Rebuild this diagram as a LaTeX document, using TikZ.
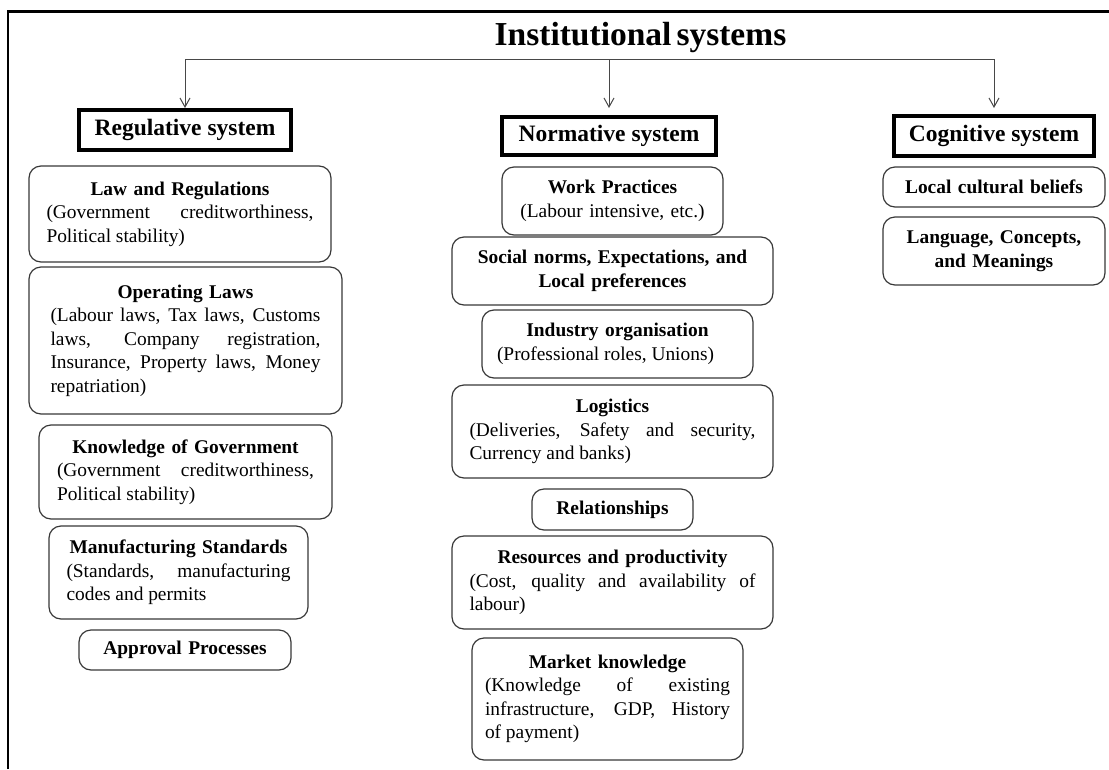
\documentclass[tikz,border=0pt]{standalone}
\usepackage{fontspec}
\setmainfont{Liberation Serif}
\usetikzlibrary{arrows.meta}
\tikzset{
  hdr/.style={draw=black, line width=4pt, inner sep=0pt, align=center,
    font=\fontsize{23.5}{28}\selectfont\bfseries},
  rb/.style={draw=black!78, line width=1.2pt, rounded corners=12pt, inner sep=0pt,
    font=\fontsize{19.4}{23.5}\selectfont},
  rbb/.style={rb, align=center, font=\fontsize{19.4}{23.5}\selectfont\bfseries},
  conn/.style={draw=black!72, line width=1pt},
  arr/.style={conn, -{Straight Barb[length=9pt,width=10pt]}},
  frame/.style={draw=black, line width=2.2pt},
  titlestyle/.style={inner sep=0pt, anchor=base, font=\fontsize{33.5}{38}\selectfont\bfseries},
}
% name, style, x1, y1, x2, y2, text width, content
\newcommand\ibox[8]{\node[#2,text width=#7pt,minimum width={#5pt-#3pt},minimum height={#6pt-#4pt}] (#1) at ({(#3+#5)/2},{(#4+#6)/2}) {#8};}
\newcommand\hd[1]{\noindent\makebox[\linewidth][c]{\bfseries #1}\par}
\newcommand\jst[1]{\noindent\tolerance=10000\pretolerance=-1\hyphenpenalty=10000\exhyphenpenalty=10000\leftskip=0pt\rightskip=0pt\parfillskip=0pt plus 1fil\spaceskip=4.8pt plus 8pt minus 1pt\relax #1\par}
\begin{document}
\begin{tikzpicture}[x=1pt,y=-1pt]
\useasboundingbox (0,0) rectangle (1109,769);
% frame
\draw[frame] (8,769) -- (8,11.5) -- (1109,11.5);
% title
\node[titlestyle] (title) at (640.5,45) {Institutional\hspace{5pt}systems};
% header boxes
\node[hdr, minimum width=212pt, minimum height=40pt] (reg) at (185,130) {Regulative system};
\node[hdr, minimum width=214pt, minimum height=38pt] (nor) at (609,136) {Normative system};
\node[hdr, minimum width=200pt, minimum height=40pt] (cog) at (994,136) {Cognitive system};
% connectors
\coordinate (bus) at (610,59);
\draw[conn] (reg.north |- bus) -- (cog.north |- bus);
\draw[arr] (reg.north |- bus) -- (reg.north);
\draw[arr, shorten >=7pt] (nor.north |- bus) -- (nor.north);
\draw[arr, shorten >=6pt] (cog.north |- bus) -- (cog.north);
% regulative column
\ibox{law}{rb}{29}{166}{331}{262}{267}{\hd{Law and Regulations}\jst{(Government creditworthiness, Political stability)}}
\ibox{opl}{rb}{29}{267}{342}{414}{270}{\hd{Operating Laws}\jst{(Labour laws, Tax laws, Customs laws, Company registration, Insurance, Property laws, Money repatriation)}}
\ibox{kog}{rb}{39}{425}{332}{519}{257}{\hd{Knowledge of Government}\jst{(Government creditworthiness, Political stability)}}
\ibox{mfs}{rb}{49}{526}{308}{619}{224}{\hd{Manufacturing Standards}\jst{(Standards, manufacturing codes and permits}}
\ibox{app}{rbb}{79}{630}{291}{670}{200}{Approval Processes}
% normative column
\ibox{wp}{rb,align=center}{502}{167}{723}{235}{210}{\textbf{Work Practices}\\(Labour intensive, etc.)}
\ibox{soc}{rbb}{452}{237}{773}{305}{305}{Social norms, Expectations, and\\Local preferences}
\ibox{ind}{rb}{482}{310}{753}{378}{241}{\hd{Industry organisation}\jst{(Professional roles, Unions)}}
\ibox{log}{rb}{452}{385}{773}{478}{286}{\hd{Logistics}\jst{(Deliveries, Safety and security, Currency and banks)}}
\ibox{rel}{rbb}{532}{489}{693}{530}{150}{Relationships}
\ibox{res}{rb}{452}{536}{773}{629}{286}{\hd{Resources and productivity}\jst{(Cost, quality and availability of labour)}}
\ibox{mkt}{rb}{472}{638}{743}{760}{245}{\hd{Market knowledge}\jst{(Knowledge of existing infrastructure, GDP, History\linebreak[4] of payment)}}
% cognitive column
\ibox{lcb}{rbb}{883}{167}{1105}{207}{210}{Local cultural beliefs}
\ibox{lcm}{rbb}{883}{217}{1105}{285}{210}{Language, Concepts,\\and Meanings}
\end{tikzpicture}
\end{document}
